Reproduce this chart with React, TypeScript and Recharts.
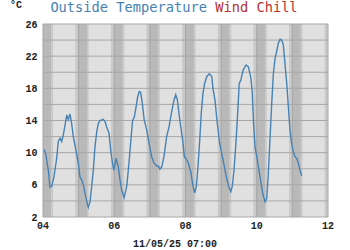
import React from "react";
import { LineChart, Line, XAxis, YAxis, ReferenceArea, ReferenceLine } from "recharts";

// time in hours since 00:00 of day "04", outside temperature in °C
const hours = [
  0.67, 2.0, 3.6, 4.7, 5.9, 7.4, 9.2, 10.3, 11.5, 12.6, 13.7, 14.8, 16.0, 17.0, 18.2, 19.3, 20.4, 22.2, 23.8,
  24.9, 26.1, 27.2, 28.8, 30.5, 31.7, 32.8, 33.9, 35.0, 36.2, 37.3, 38.4, 40.6, 41.8, 42.9, 44.5, 45.6, 47.0, 47.8,
  49.2, 50.7, 51.9, 53.0, 54.6, 56.4, 57.9, 59.3, 60.4, 61.5, 62.7, 63.8, 64.9, 65.8, 66.9, 68.2, 69.9, 71.4,
  73.2, 74.8, 76.6, 77.7, 78.8, 80.0, 81.5, 83.3, 84.9, 86.7, 88.3, 89.4, 90.5, 91.6, 92.8, 94.1, 95.2,
  96.8, 97.9, 99.5, 101.1, 102.2, 103.3, 104.4, 105.6, 106.6, 107.8, 108.9, 110.3, 112.0, 113.7, 114.5, 115.9,
  117.2, 119.0, 121.3, 123.5, 125.1, 126.5, 127.5, 128.7, 129.8, 130.9, 132.2, 133.2, 134.9, 136.8, 138.3, 139.9,
  141.0, 141.8, 142.8, 144.0, 145.1, 146.2, 148.0, 149.6, 150.7, 151.8, 152.9, 154.1, 155.2, 156.3, 157.4,
  158.5, 159.7, 160.8, 161.9, 163.0, 164.2, 165.3, 166.4, 167.5, 168.6, 169.8, 170.9, 172.0, 173.1, 174.3,
];
const outsideTemp = [
  10.4, 9.7, 7.8, 5.7, 5.85, 7.0, 9.3, 11.4, 11.8, 11.4, 12.2, 13.4, 14.7, 14.1, 14.8, 13.65, 12.0, 10.3, 8.7,
  7.0, 6.6, 6.0, 4.5, 3.2, 3.9, 5.8, 7.8, 10.7, 12.6, 13.65, 14.0, 14.15, 13.85, 13.2, 12.4, 10.3, 8.5, 7.8,
  9.3, 8.25, 6.6, 5.35, 4.4, 5.8, 8.7, 11.8, 14.05, 14.4, 15.7, 16.95, 17.6, 17.5, 16.15, 14.05, 12.8, 11.2,
  9.5, 8.7, 8.35, 8.35, 7.95, 8.25, 9.5, 12.0, 13.2, 15.1, 16.55, 17.2, 16.6, 14.9, 13.2, 11.6, 9.5,
  9.1, 8.7, 7.65, 5.8, 5.0, 5.8, 8.25, 11.6, 14.9, 17.4, 18.6, 19.45, 19.8, 19.5, 18.0, 16.5,
  14.0, 11.2, 9.1, 7.0, 5.8, 5.15, 5.8, 7.85, 10.7, 14.05, 18.6, 19.0, 20.3, 20.9, 20.7, 19.45,
  17.5, 13.8, 10.7, 9.5, 8.25, 7.0, 4.95, 3.9, 4.3, 7.4, 11.6, 16.15, 19.85, 21.7, 22.55,
  23.6, 24.1, 24.0, 23.4, 21.1, 18.6, 15.7, 12.8, 11.2, 10.1, 9.5, 9.3, 8.7, 7.85, 7.1,
];

const dayTicks = [0, 2, 4, 6, 8];
const dayLabels = ["04", "06", "08", "10", "12"];
const yTicks = [2, 6, 10, 14, 18, 22, 26];
const yGrid = [2, 4, 6, 8, 10, 12, 14, 16, 18, 20, 22, 24, 26];
const days = [0, 1, 2, 3, 4, 5, 6, 7, 8];
// night shading offsets (fraction of a day relative to midnight)
const twilightBefore = 0.093;
const nightEnd = 0.236;
const twilightAfter = 0.283;

const data = hours.map((h, i) => ({ t: h / 24, temp: outsideTemp[i] }));

const clip = (v: number) => Math.max(0, Math.min(8, v));

const bands: { x1: number; x2: number; fill: string }[] = [];
days.forEach((d) => {
  bands.push({ x1: clip(d - twilightBefore), x2: clip(d), fill: "#c9c9c9" });
  bands.push({ x1: clip(d), x2: clip(d + nightEnd), fill: "#b9b9b9" });
  bands.push({ x1: clip(d + nightEnd), x2: clip(d + twilightAfter), fill: "#c9c9c9" });
});
const visibleBands = bands.filter((b) => b.x2 > b.x1);

const tickFont = {
  fontFamily: "'Liberation Mono', monospace",
  fontWeight: "bold" as const,
  fontSize: 10,
  fill: "#222",
};

export default function App() {
  return (
    <div style={{ position: "absolute", left: 0, top: 0, width: 350, height: 250, background: "#fff" }}>
      <style>{"body{margin:0}"}</style>
      <div
        style={{
          position: "absolute",
          left: 10,
          top: 1.3,
          fontFamily: "'Liberation Mono', monospace",
          fontWeight: "bold",
          fontSize: 10,
          lineHeight: "10px",
          color: "#222",
          whiteSpace: "nowrap",
        }}
      >
        °C
      </div>
      <div
        style={{
          position: "absolute",
          left: 0,
          width: 348,
          top: 0.7,
          textAlign: "center",
          fontFamily: "'DejaVu Sans Mono', monospace",
          fontSize: 13.7,
          lineHeight: "13.7px",
          whiteSpace: "nowrap",
        }}
      >
        <span style={{ color: "#4682b4" }}>Outside Temperature</span>{" "}
        <span style={{ color: "#b83232" }}>Wind Chill</span>
      </div>
      <LineChart width={350} height={250} data={data} margin={{ top: 24, right: 22, bottom: 0, left: 0 }}>
        <XAxis
          dataKey="t"
          type="number"
          domain={[0, 8]}
          ticks={dayTicks}
          tickFormatter={(v: number) => dayLabels[dayTicks.indexOf(v)] ?? ""}
          axisLine={false}
          tickLine={false}
          tickSize={0}
          tickMargin={5}
          height={33}
          tick={tickFont}
          interval={0}
        />
        <YAxis
          type="number"
          domain={[2, 26]}
          ticks={yTicks}
          axisLine={false}
          tickLine={false}
          tickSize={0}
          tickMargin={5.5}
          width={43}
          tick={tickFont}
          interval={0}
        />
        <ReferenceArea x1={0} x2={8} y1={2} y2={26} fill="#e0e0e0" fillOpacity={1} stroke="none" />
        {visibleBands.map((b, i) => (
          <ReferenceArea key={"b" + i} x1={b.x1} x2={b.x2} y1={2} y2={26} fill={b.fill} fillOpacity={1} stroke="none" />
        ))}
        {yGrid.map((v) => (
          <ReferenceLine key={"h" + v} y={v} stroke="#a8a8a8" strokeWidth={1} />
        ))}
        {days.map((d) => (
          <ReferenceLine key={"v" + d} x={d} stroke="#a4a4a4" strokeWidth={1} />
        ))}
        <Line
          type="linear"
          dataKey="temp"
          stroke="#4682b4"
          strokeWidth={1.4}
          dot={false}
          isAnimationActive={false}
        />
      </LineChart>
      <div
        style={{
          position: "absolute",
          left: 0,
          width: 350,
          top: 239.5,
          textAlign: "center",
          fontFamily: "'Liberation Mono', monospace",
          fontWeight: "bold",
          fontSize: 10,
          lineHeight: "10px",
          color: "#222",
          whiteSpace: "nowrap",
        }}
      >
        11/05/25 07:00
      </div>
    </div>
  );
}
